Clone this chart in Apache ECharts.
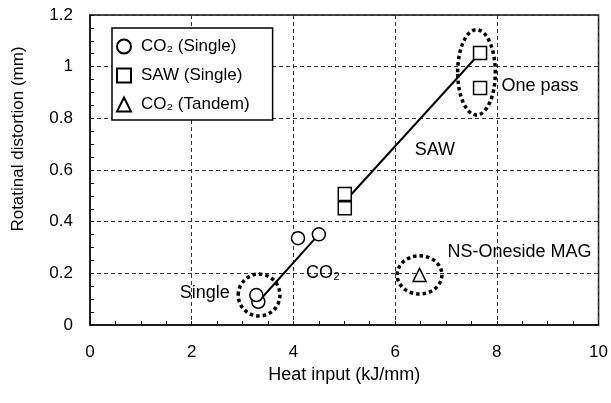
<!DOCTYPE html>
<html>
<head>
<meta charset="utf-8">
<script src="https://cdn.jsdelivr.net/npm/echarts@6/dist/echarts.min.js"></script>
<style>
html, body { margin: 0; padding: 0; background: #fff; }
#chart { width: 611px; height: 403px; }
</style>
</head>
<body>
<div id="chart"></div>
<script>
// data
var co2Single = [[3.31, 0.09], [3.27, 0.116], [4.09, 0.336], [4.5, 0.351]];
var sawSingle = [[5.01, 0.507], [5.01, 0.452], [7.67, 1.053], [7.67, 0.917]];
var co2Tandem = [[6.48, 0.194]];
var co2Fit = [[3.31, 0.09], [4.5, 0.351]];
var sawFit = [[5.01, 0.478], [7.67, 1.053]];
// dotted rings: [x, y, half width, half height] in data units
var rings = [[3.325, 0.116, 0.41, 0.081], [6.48, 0.194, 0.44, 0.074], [7.6, 0.978, 0.37, 0.165]];
// notes: [x, y, text, align]
var notes = [
    [2.75, 0.124, 'Single', 'right'],
    [4.58, 0.2, 'CO₂', 'center'],
    [6.78, 0.678, 'SAW', 'center'],
    [8.09, 0.924, 'One pass', 'left'],
    [7.03, 0.284, 'NS-Oneside MAG', 'left']
];
var xTicks = [0, 10, 2];
var yTicks = [0, 1.2, 0.2];

var font = 'Arial, "Liberation Sans", sans-serif';
var myChart = echarts.init(document.getElementById('chart'));

function markerSeries(name, symbol, data) {
    return {
        name: name,
        type: 'scatter',
        symbol: symbol,
        symbolSize: 13,
        data: data,
        z: 5,
        itemStyle: { color: '#fff', borderColor: '#000', borderWidth: 1.5, opacity: 1 }
    };
}

function fitSeries(data) {
    return {
        type: 'line',
        data: data,
        symbol: 'none',
        z: 3,
        lineStyle: { color: '#000', width: 2 }
    };
}

var option = {
    animation: false,
    textStyle: { fontFamily: font },
    grid: {
        left: 90, right: 12, top: 15, bottom: 78,
        show: true, borderColor: '#111', borderWidth: 1.5
    },
    legend: {
        data: ['CO₂ (Single)', 'SAW (Single)', 'CO₂ (Tandem)'],
        orient: 'vertical',
        left: 112, top: 28,
        padding: [10, 23, 7, 4],
        itemWidth: 14, itemHeight: 14, itemGap: 12,
        borderColor: '#000', borderWidth: 1.5,
        backgroundColor: '#fff',
        textStyle: { fontSize: 17, color: '#000', fontFamily: font, padding: [0, 0, 0, 5] }
    },
    xAxis: {
        type: 'value',
        min: xTicks[0], max: xTicks[1], interval: xTicks[2],
        name: 'Heat input (kJ/mm)',
        nameLocation: 'middle', nameGap: 39,
        nameTextStyle: { fontSize: 18, color: '#000' },
        axisLine: { lineStyle: { color: '#111', width: 1.5 } },
        axisTick: { inside: true, length: 4, lineStyle: { color: '#111' } },
        minorTick: { show: true, splitNumber: 4, length: 4, lineStyle: { color: '#111' } },
        axisLabel: { fontSize: 17, color: '#000', margin: 19 },
        splitLine: { lineStyle: { color: '#333', type: [4, 3], width: 1 } }
    },
    yAxis: {
        type: 'value',
        min: yTicks[0], max: yTicks[1], interval: yTicks[2],
        name: 'Rotatinal distortion (mm)',
        nameLocation: 'middle', nameGap: 63,
        nameTextStyle: { fontSize: 17, color: '#000', padding: [0, 0, 0, 62] },
        axisLine: { show: true, lineStyle: { color: '#111', width: 1.5 } },
        axisTick: { show: true, inside: true, length: 4, lineStyle: { color: '#111' } },
        minorTick: { show: true, splitNumber: 4, length: 4, lineStyle: { color: '#111' } },
        axisLabel: { fontSize: 17, color: '#000', margin: 17 },
        splitLine: { lineStyle: { color: '#333', type: [4, 3], width: 1 } }
    },
    series: [
        fitSeries(co2Fit),
        fitSeries(sawFit),
        markerSeries('CO₂ (Single)', 'circle', co2Single),
        markerSeries('SAW (Single)', 'rect', sawSingle),
        markerSeries('CO₂ (Tandem)', 'triangle', co2Tandem),
        {
            type: 'custom',
            data: rings,
            z: 4,
            silent: true,
            renderItem: function (params, api) {
                var c = api.coord([api.value(0), api.value(1)]);
                var s = api.size([api.value(2), api.value(3)]);
                return {
                    type: 'ellipse',
                    shape: { cx: c[0], cy: c[1], rx: s[0], ry: s[1] },
                    style: { fill: null, stroke: '#000', lineWidth: 3.5, lineDash: [3.5, 3] }
                };
            }
        },
        {
            type: 'scatter',
            symbolSize: 0,
            z: 6,
            silent: true,
            itemStyle: { opacity: 1 },
            data: notes.map(function (n) {
                return {
                    value: [n[0], n[1]],
                    label: {
                        show: true, position: 'inside', formatter: n[2], align: n[3],
                        fontSize: 18, color: '#000', fontFamily: font
                    }
                };
            })
        }
    ]
};
myChart.setOption(option);
</script>
</body>
</html>
